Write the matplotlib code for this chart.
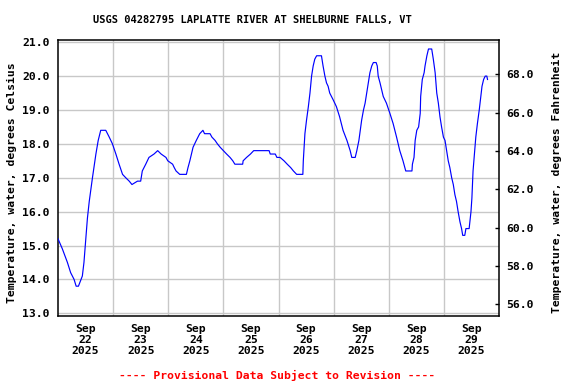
import matplotlib
matplotlib.use("Agg")
import matplotlib.pyplot as plt
import numpy as np

# hours since Sep 22 2025 00:00, water temperature (deg C)
hours = [0.0, 1.9, 4.1, 5.5, 7.0, 7.9, 8.9, 10.6, 11.3, 12.0, 12.8, 13.6, 15.0, 16.5, 17.5, 18.6,
         20.8, 22.3, 23.7, 25.2, 26.6, 28.1, 29.5, 31.0, 32.2, 34.6, 36.0, 36.7, 38.2, 39.6, 41.8,
         43.4, 44.9, 47.0, 47.8, 49.9, 50.6, 51.4, 53.0, 55.9, 56.6, 57.4, 58.1, 58.8, 60.2, 61.7,
         63.1, 63.8, 66.2, 67.0, 68.4, 69.4, 70.6, 72.0, 73.4, 74.9, 76.1, 77.0, 80.4, 80.6, 82.1,
         83.8, 85.2, 91.9, 92.4, 94.6, 95.3, 96.7, 98.4, 99.8, 101.3, 102.5, 103.9, 106.6, 106.8,
         107.5, 108.2, 109.0, 109.7, 110.4, 111.1, 111.8, 112.6, 114.7, 115.4, 116.2, 116.9, 117.6,
         118.3, 119.8, 121.2, 122.6, 124.1, 125.8, 127.2, 127.9, 129.4, 130.1, 131.0, 132.2, 133.0,
         133.7, 134.4, 135.1, 135.8, 136.6, 137.3, 138.5, 139.0, 139.4, 140.2, 140.9, 141.6, 143.0,
         144.5, 145.9, 147.4, 148.8, 150.2, 151.4, 154.1, 154.3, 155.0, 155.5, 156.2, 157.0, 157.7,
         157.9, 158.6, 159.4, 159.8, 160.6, 161.3, 162.7, 163.4, 164.2, 164.9, 165.6, 166.3, 167.0,
         167.8, 168.5, 169.2, 169.9, 170.6, 171.4, 172.1, 172.8, 173.5, 174.2, 175.0, 175.7, 176.2,
         177.1, 177.6, 179.0, 179.8, 180.2, 180.7, 181.4, 181.9, 182.6, 183.4, 184.1, 184.6, 185.3,
         186.0, 186.7, 187.0]
temp_c = [15.2, 14.9, 14.5, 14.2, 14.0, 13.8, 13.8, 14.1, 14.5, 15.1, 15.8, 16.3, 17.0, 17.7, 18.1, 18.4,
          18.4, 18.2, 18.0, 17.7, 17.4, 17.1, 17.0, 16.9, 16.8, 16.9, 16.9, 17.2, 17.4, 17.6, 17.7,
          17.8, 17.7, 17.6, 17.5, 17.4, 17.3, 17.2, 17.1, 17.1, 17.3, 17.5, 17.7, 17.9, 18.1, 18.3,
          18.4, 18.3, 18.3, 18.2, 18.1, 18.0, 17.9, 17.8, 17.7, 17.6, 17.5, 17.4, 17.4, 17.5, 17.6,
          17.7, 17.8, 17.8, 17.7, 17.7, 17.6, 17.6, 17.5, 17.4, 17.3, 17.2, 17.1, 17.1, 17.5,
          18.3, 18.7, 19.1, 19.5, 20.0, 20.3, 20.5, 20.6, 20.6, 20.3, 20.0, 19.8, 19.7,
          19.5, 19.3, 19.1, 18.8, 18.4, 18.1, 17.8, 17.6, 17.6, 17.8, 18.1, 18.7, 19.0,
          19.2, 19.5, 19.8, 20.1, 20.3, 20.4, 20.4, 20.3, 20.0, 19.8, 19.6, 19.4, 19.2,
          18.9, 18.6, 18.2, 17.8, 17.5, 17.2, 17.2, 17.4, 17.6, 18.1, 18.4, 18.5, 18.9,
          19.4, 19.9, 20.1, 20.3, 20.6, 20.8, 20.8, 20.5, 20.1, 19.5, 19.2, 18.8, 18.5,
          18.2, 18.1, 17.8, 17.5, 17.3, 17.0, 16.8, 16.5, 16.3, 16.0, 15.7, 15.5, 15.3,
          15.3, 15.5, 15.5, 16.0, 16.4, 17.2, 17.8, 18.2, 18.6, 19.0, 19.4, 19.7, 19.9,
          20.0, 20.0, 19.9]

day_labels = ["Sep\n22\n2025", "Sep\n23\n2025", "Sep\n24\n2025", "Sep\n25\n2025",
              "Sep\n26\n2025", "Sep\n27\n2025", "Sep\n28\n2025", "Sep\n29\n2025"]
c_ticks = [13.0, 14.0, 15.0, 16.0, 17.0, 18.0, 19.0, 20.0, 21.0]
f_ticks = [56.0, 58.0, 60.0, 62.0, 64.0, 66.0, 68.0]

FONT = "DejaVu Sans Mono"
FS = 8.2

fig = plt.figure(figsize=(5.76, 3.84), dpi=100)
ax = fig.add_axes([58 / 576, 1 - 316 / 384, 441 / 576, 276.5 / 384])

ax.plot(hours, temp_c, color="#0000ff", lw=0.85, zorder=3)

ax.set_xlim(0, 192)
ax.set_ylim(12.92, 21.08)

# gridlines at midnight, labels at noon
ax.set_xticks([24 * i for i in range(1, 8)])
ax.set_xticks([24 * i + 12 for i in range(8)], minor=True)
ax.set_xticklabels([])
ax.set_xticklabels(day_labels, minor=True, fontfamily=FONT, fontweight="bold",
                   fontsize=FS, linespacing=1.1)
ax.tick_params(axis="x", which="both", length=0, pad=6)

ax.set_yticks(c_ticks)
ax.set_yticklabels(["%.1f" % v for v in c_ticks], fontfamily=FONT, fontweight="bold", fontsize=FS)
ax.tick_params(axis="y", length=0, pad=6)

ax.grid(True, which="major", color="#c8c8c8", lw=1.0, zorder=0)
for s in ax.spines.values():
    s.set_linewidth(1.1)
    s.set_color("black")

ax2 = ax.twinx()
ax2.set_ylim(55.39, 69.82)
ax2.set_yticks(f_ticks)
ax2.set_yticklabels(["%.1f" % v for v in f_ticks], fontfamily=FONT, fontweight="bold", fontsize=FS)
ax2.tick_params(axis="y", direction="in", length=3, width=1, pad=5)
for s in ax2.spines.values():
    s.set_visible(False)

fig.text(12 / 576, 1 - 183 / 384, "Temperature, water, degrees Celsius", rotation=90,
         ha="center", va="center", fontfamily=FONT, fontweight="bold", fontsize=FS)
fig.text(557 / 576, 1 - 182 / 384, "Temperature, water, degrees Fahrenheit", rotation=90,
         ha="center", va="center", fontfamily=FONT, fontweight="bold", fontsize=FS)
fig.text(252 / 576, 1 - 20.5 / 384, "USGS 04282795 LAPLATTE RIVER AT SHELBURNE FALLS, VT",
         ha="center", va="center", fontfamily=FONT, fontweight="bold", fontsize=7.5)
fig.text(277 / 576, 1 - 375 / 384, "---- Provisional Data Subject to Revision ----",
         ha="center", va="center", color="red", fontfamily=FONT, fontweight="bold", fontsize=FS)

fig.savefig("out.png", dpi=100)
